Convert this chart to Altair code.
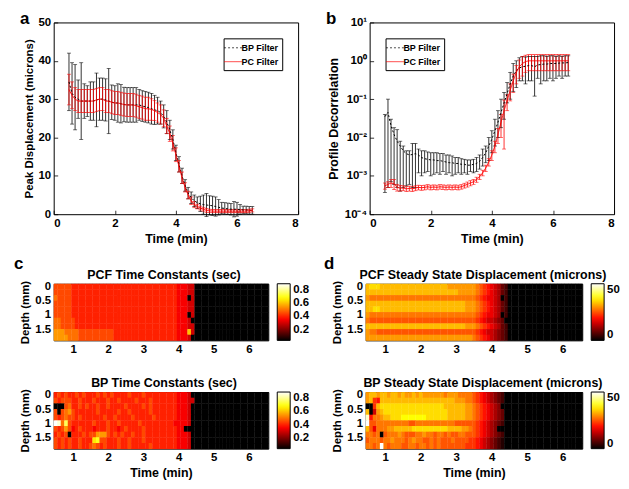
import altair as alt
import pandas as pd

FONT = "Liberation Sans"

TIME = [0.5, 0.6, 0.7, 0.8, 0.9, 1.0, 1.1, 1.2, 1.3, 1.4,
        1.5, 1.6, 1.7, 1.8, 1.9, 2.0, 2.1, 2.2, 2.3, 2.4,
        2.5, 2.6, 2.7, 2.8, 2.9, 3.0, 3.1, 3.2, 3.3, 3.4,
        3.5, 3.6, 3.7, 3.8, 3.9, 4.0, 4.1, 4.2, 4.3, 4.4,
        4.5, 4.6, 4.7, 4.8, 4.9, 5.0, 5.1, 5.2, 5.3, 5.4,
        5.5, 5.6, 5.7, 5.8, 5.9, 6.0, 6.1, 6.2, 6.3, 6.4, 6.5]
SERIES = ["BP Filter", "PC Filter"]

# ---- panel a : peak displacement (microns), mean and half-width of error bar
A_BP_MEAN = [34.5, 31.5, 30.5, 30.0, 29.5, 29.5, 29.5, 29.5, 29.5, 29.8,
             30.0, 30.0, 29.8, 29.5, 29.2, 29.0, 29.0, 28.8, 28.6, 28.5,
             28.5, 28.5, 28.5, 28.5, 28.2, 28.0, 27.8, 27.5, 27.2, 27.0,
             26.5, 25.5, 24.0, 22.0, 19.5, 16.0, 13.0, 10.0, 7.5, 5.5,
             4.3, 3.5, 3.0, 2.7, 2.5, 2.4, 2.3, 2.2, 2.0, 1.8,
             1.6, 1.5, 1.4, 1.3, 1.3, 1.3, 1.2, 1.1, 1.1, 1.0, 1.0]
A_BP_ERR = [7.5, 8.0, 8.5, 5.0, 10.0, 4.5, 4.0, 5.0, 5.0, 7.0,
            5.5, 5.5, 5.5, 8.5, 4.5, 4.5, 5.0, 5.0, 4.5, 4.5,
            4.5, 4.5, 4.5, 4.0, 4.0, 4.0, 4.0, 4.0, 3.8, 3.5,
            3.0, 3.0, 3.0, 2.5, 2.5, 2.0, 2.0, 2.0, 1.5, 1.5,
            1.5, 1.5, 1.5, 2.0, 2.5, 3.0, 2.5, 2.5, 2.5, 2.0,
            1.5, 1.5, 1.5, 1.5, 2.0, 1.8, 1.3, 1.0, 1.0, 1.0, 1.0]
A_PC_MEAN = [32.5, 31.0, 30.0, 29.5, 29.5, 29.5, 29.5, 29.5, 29.5, 29.8,
             30.0, 30.0, 29.5, 29.5, 29.2, 29.0, 29.0, 28.8, 28.6, 28.5,
             28.5, 28.5, 28.3, 28.0, 27.8, 27.5, 27.5, 27.3, 27.0, 26.5,
             26.0, 25.0, 23.0, 21.0, 18.5, 15.5, 12.5, 9.5, 7.0, 5.0,
             3.5, 2.5, 2.0, 1.6, 1.3, 1.0, 0.9, 0.8, 0.8, 0.8,
             0.8, 0.8, 0.8, 0.8, 0.8, 0.8, 0.8, 0.8, 0.8, 0.9, 1.0]
A_PC_ERR = [4.0, 3.5, 3.0, 3.0, 3.0, 3.0, 3.0, 3.0, 3.0, 3.0,
            3.0, 3.0, 3.0, 3.0, 3.0, 3.0, 3.0, 3.0, 3.0, 3.0,
            3.0, 3.0, 3.0, 3.0, 3.0, 3.0, 3.0, 2.8, 2.6, 2.5,
            2.5, 2.2, 2.0, 2.0, 2.0, 1.8, 1.5, 1.5, 1.2, 1.0,
            1.0, 0.8, 0.6, 0.5, 0.5, 0.5, 0.4, 0.4, 0.4, 0.4,
            0.4, 0.4, 0.4, 0.4, 0.4, 0.4, 0.4, 0.4, 0.4, 0.4, 0.4]

# ---- panel b : profile decorrelation (log scale)
B_BP_MEAN = [0.035, 0.045, 0.02, 0.012, 0.008, 0.006, 0.0045, 0.0038, 0.0035, 0.0036,
             0.0038, 0.0035, 0.003, 0.0028, 0.0027, 0.0026, 0.0026, 0.0025, 0.0025, 0.0024,
             0.0023, 0.0022, 0.0022, 0.0021, 0.0021, 0.002, 0.002, 0.0019, 0.0019, 0.002,
             0.0021, 0.0024, 0.003, 0.004, 0.006, 0.009, 0.015, 0.025, 0.045, 0.08,
             0.14, 0.25, 0.4, 0.55, 0.65, 0.7, 0.72, 0.75, 0.75, 0.7,
             0.78, 0.8, 0.82, 0.82, 0.85, 0.85, 0.85, 0.87, 0.88, 0.88, 0.9]
B_BP_LO = [3.7e-4, 5e-4, 7e-4, 6e-4, 5e-4, 4e-4, 5e-4, 5.5e-4, 6e-4, 5e-4,
           5e-4, 1.2e-3, 1e-3, 1.2e-3, 1.3e-3, 1e-3, 1.1e-3, 1.2e-3, 1.1e-3, 1.3e-3,
           1.1e-3, 1.2e-3, 1.0e-3, 1.1e-3, 1.2e-3, 1.1e-3, 1.2e-3, 1.1e-3, 1.3e-3, 1.2e-3,
           1.3e-3, 1.5e-3, 1.8e-3, 2.2e-3, 2.5e-3, 4e-3, 6e-3, 0.01, 0.018, 0.03,
           0.08, 0.1, 0.16, 0.2, 0.3, 0.3, 0.25, 0.3, 0.3, 0.12,
           0.35, 0.25, 0.3, 0.3, 0.35, 0.3, 0.35, 0.4, 0.35, 0.4, 0.4]
B_BP_HI = [0.04, 0.1, 0.03, 0.018, 0.016, 0.008, 0.006, 0.0045, 0.0045, 0.007,
           0.007, 0.005, 0.0045, 0.0045, 0.0042, 0.004, 0.004, 0.004, 0.0038, 0.0038,
           0.0035, 0.0035, 0.0033, 0.003, 0.003, 0.0028, 0.0027, 0.0026, 0.0026, 0.0027,
           0.003, 0.0035, 0.005, 0.006, 0.01, 0.015, 0.03, 0.05, 0.1, 0.15,
           0.27, 0.5, 0.85, 1.0, 1.2, 1.3, 1.25, 1.3, 1.3, 1.3,
           1.3, 1.35, 1.35, 1.3, 1.35, 1.35, 1.3, 1.35, 1.3, 1.35, 1.35]
B_PC_MEAN = [5.5e-4, 6e-4, 6.5e-4, 6.2e-4, 5e-4, 4.8e-4, 4.8e-4, 4.6e-4, 4.7e-4, 4.6e-4,
             4.8e-4, 5e-4, 4.9e-4, 5e-4, 5.2e-4, 5e-4, 5.1e-4, 5e-4, 5.2e-4, 5.1e-4,
             5e-4, 5.1e-4, 5e-4, 5.1e-4, 5e-4, 5.2e-4, 5.6e-4, 6e-4, 6.5e-4, 7e-4,
             8e-4, 9.5e-4, 1.2e-3, 1.6e-3, 2.3e-3, 3.5e-3, 6e-3, 0.012, 0.025, 0.05,
             0.09, 0.17, 0.3, 0.5, 0.7, 0.85, 0.95, 1.0, 1.0, 1.0,
             1.0, 1.0, 1.0, 1.0, 1.0, 1.0, 1.0, 1.0, 1.0, 1.0, 1.0]
B_PC_ERR = [1e-4, 1e-4, 1.5e-4, 1.8e-4, 1e-4, 0.8e-4, 0.7e-4, 0.7e-4, 0.7e-4, 0.7e-4,
            0.7e-4, 0.7e-4, 0.7e-4, 0.7e-4, 0.7e-4, 0.7e-4, 0.7e-4, 0.7e-4, 0.7e-4, 0.7e-4,
            0.7e-4, 0.7e-4, 0.7e-4, 0.7e-4, 0.7e-4, 0.7e-4, 0.8e-4, 0.9e-4, 1e-4, 1e-4,
            1.2e-4, 1.5e-4, 2e-4, 3e-4, 5e-4, 1e-3, 2e-3, 5e-3, 0.015, 0.045,
            0.04, 0.08, 0.15, 0.25, 0.35, 0.45, 0.45, 0.45, 0.45, 0.45,
            0.45, 0.45, 0.45, 0.45, 0.45, 0.45, 0.45, 0.45, 0.45, 0.45, 0.45]

# ---- heat maps: one string per depth row, one character per time column
# (level index in LEVELS; columns not written are 0 = black)
DEPTH = [0.0, 0.2, 0.4, 0.6, 0.8, 1.0, 1.2, 1.4, 1.6, 1.8]
LEVELS = "0123456789ABCDEFGHIJK"
TC_STEP = 0.05     # seconds per level
SS_STEP = 2.5      # microns per level

C_PCF_TC = [
    "9999988888" "8888888888" "8888888888" "8888877766",
    "9999988888" "8888888888" "8888888888" "8888877766",
    "A999988888" "8888888888" "8888888888" "8888877706",
    "9999988888" "8888888888" "8888888888" "8888877766",
    "9999988888" "8888888888" "8888888888" "8888877766",
    "9999988888" "8888888888" "8888888888" "8888877706",
    "AA99998888" "8888888888" "8888888888" "8888877760",
    "AA99998888" "8888888888" "8888888888" "8888877766",
    "BBBAAAA999" "9999999888" "8888888888" "88888777C6",
    "BBBBAAA999" "9999999888" "8888888888" "8888877760",
]
C_BP_TC = [
    "8989889898" "8898989888" "8988898888" "888887776",
    "9899988988" "8988898898" "8889888988" "8888877766",
    "0009A88989" "8898898888" "9888898988" "888887776",
    "909AB98888" "8898888898" "8988888988" "888887776",
    "989A998988" "8888988988" "8898888898" "888887776",
    "IHAF988888" "8988898898" "8888988888" "888877776",
    "989B978988" "8788898878" "9888898888" "888887700",
    "8989088898" "99BBB98989" "8898898888" "888887776",
    "9898988988" "8DE9988898" "8988898888" "888887776",
    "9898988988" "9A98988898" "8988888988" "888887776",
]
D_PCF_SS = [
    "DEEEDDDDDD" "DDDDDDDDDD" "DDDCCCCCCC" "CBA9876532",
    "DDDDDDDDDD" "DDDDDDDDDD" "DDDDDDCCCC" "CBA9876532",
    "CBBBBBBBBB" "BBBBBBBBBB" "BBBBBBBBBB" "BA98776502",
    "DDDDDDDDDD" "DDDDDDDDDD" "DDDDDDDDCC" "CBA9876532",
    "DDEEDDDDDD" "DDDDDDDDDD" "DDDDDDDDCC" "CBA9876532",
    "CBBBBBBBBB" "BBBBBBBBBB" "BBBBBBBBBB" "BA98776502",
    "BAAAAAAAAA" "AAAAAAAAAA" "AAAAAAAAAA" "A987665430",
    "DDDDDDDDDD" "DDDDDDDDDD" "DDDDDDDDCC" "CBA9876532",
    "CBBAAAAAAA" "AAAAAAAAAA" "AAAAAAAAAA" "A987665432",
    "CCCCCCCCCC" "CCCCCCCCCC" "CCCCCCCCCC" "BA98765432",
]
D_BP_SS = [
    "CDDCDDCDDC" "DCCDCDCCCC" "CCBCCCBBBB" "A98765432",
    "CD98DDDDDD" "DDDDDDDDDD" "DDDDDCCCBB" "A98765432",
    "009DEEEEEE" "EEEEEEEEEE" "EEDDDDDDCC" "BA9876540",
    "D06CDEEEEE" "EEEEEEEEEE" "EEEDDDDDCC" "BA9876543",
    "J8BBCDDEEE" "FFFFFFFEEE" "EEEDDDDDCC" "BA9876543",
    "KAABBBBBBB" "BBAABBBBBB" "BBBBBAAAAA" "A98765432",
    "DA7BBBCCDD" "DDDEEEEEEE" "EEEDDDDCCB" "A98765400",
    "BBAB0ABBBC" "BAAABBCBBA" "BBABAABBAA" "A98765432",
    "ABBBABBCBB" "BABCBBAABA" "BAAABAAAA9" "987654321",
    "BBABKBABBB" "AABBABBABA" "BAAAAAAA99" "987654321",
]


def series_df(bp_mean, bp_lo, bp_hi, pc_mean, pc_lo, pc_hi):
    bp = pd.DataFrame({"t": TIME, "mean": bp_mean, "lo": bp_lo, "hi": bp_hi, "series": SERIES[0]})
    pc = pd.DataFrame({"t": TIME, "mean": pc_mean, "lo": pc_lo, "hi": pc_hi, "series": SERIES[1]})
    return pd.concat([bp, pc], ignore_index=True)


df_a = series_df(A_BP_MEAN, [m - e for m, e in zip(A_BP_MEAN, A_BP_ERR)],
                 [m + e for m, e in zip(A_BP_MEAN, A_BP_ERR)],
                 A_PC_MEAN, [m - e for m, e in zip(A_PC_MEAN, A_PC_ERR)],
                 [m + e for m, e in zip(A_PC_MEAN, A_PC_ERR)])
df_b = series_df(B_BP_MEAN, B_BP_LO, B_BP_HI,
                 B_PC_MEAN, [m - e for m, e in zip(B_PC_MEAN, B_PC_ERR)],
                 [m + e for m, e in zip(B_PC_MEAN, B_PC_ERR)])


def text_layer(txt, dx, dy, size, align="left"):
    return alt.Chart(pd.DataFrame({"txt": [txt]})).mark_text(
        font=FONT, fontSize=size, fontWeight="bold", align=align, baseline="alphabetic", color="black"
    ).encode(text="txt:N", x=alt.value(dx), y=alt.value(dy))


# inward ticks (MATLAB style): the axis is moved 4 px into the plot and its
# 4 px ticks reach back to the frame; labels keep their usual distance.
TICKS_IN = dict(ticks=True, tickSize=4, tickColor="black", tickWidth=0.8, offset=-4, labelPadding=3)


def line_panel(df, yscale, yaxis, legend_orient, letter, ldx):
    leg = alt.Legend(title=None, orient=legend_orient, offset=16, strokeColor="black",
                     fillColor="white", padding=3, symbolType="M-1.5,0H1.5", symbolSize=144,
                     symbolStrokeWidth=1, labelFontSize=9, labelFontWeight="bold",
                     labelOffset=2, rowPadding=2, cornerRadius=0,
                     labelExpr="datum.label + '\u00a0\u00a0\u00a0'")
    xenc = alt.X("t:Q", scale=alt.Scale(domain=[0, 8], nice=False),
                 axis=alt.Axis(values=[0, 2, 4, 6, 8], title="Time (min)", titleFontSize=12.5,
                               **TICKS_IN))
    color = alt.Color("series:N", scale=alt.Scale(domain=SERIES, range=["#000000", "#ff0000"]), legend=leg)
    dash = alt.StrokeDash("series:N", scale=alt.Scale(domain=SERIES, range=[[2, 2], [1, 0]]), legend=leg)
    base = alt.Chart(df)
    bars = base.mark_rule(strokeWidth=0.8).encode(
        x=xenc, y=alt.Y("lo:Q", scale=yscale, axis=yaxis), y2="hi:Q", color=color)
    cap_lo = base.mark_tick(orient="horizontal", size=4, thickness=0.8).encode(
        x=xenc, y=alt.Y("lo:Q", scale=yscale, axis=yaxis), color=color)
    cap_hi = base.mark_tick(orient="horizontal", size=4, thickness=0.8).encode(
        x=xenc, y=alt.Y("hi:Q", scale=yscale, axis=yaxis), color=color)
    line = base.mark_line(strokeWidth=1).encode(
        x=xenc, y=alt.Y("mean:Q", scale=yscale, axis=yaxis), color=color, strokeDash=dash)
    return alt.layer(bars, cap_lo, cap_hi, line, text_layer(letter, ldx, 2, 17)).properties(
        width=246, height=193)


panel_a = line_panel(
    df_a,
    alt.Scale(domain=[0, 50], nice=False),
    alt.Axis(values=[0, 10, 20, 30, 40, 50], title="Peak Displacement (microns)", titleFontSize=11.5,
             **TICKS_IN),
    "top-right", "a", -34)

log_label = ("datum.value < 0.0005 ? '10⁻⁴' : datum.value < 0.005 ? '10⁻³' : "
             "datum.value < 0.05 ? '10⁻²' : datum.value < 0.5 ? '10⁻¹' : "
             "datum.value < 5 ? '10⁰' : '10¹'")
panel_b = line_panel(
    df_b,
    alt.Scale(type="log", domain=[1e-4, 10], nice=False),
    alt.Axis(values=[1e-4, 1e-3, 1e-2, 1e-1, 1, 10], labelExpr=log_label,
             title="Profile Decorrelation", titleFontSize=12.5, **TICKS_IN),
    "top-left", "b", -44)


def heat_df(rows, step):
    recs = []
    for d, row in zip(DEPTH, rows):
        row = row.ljust(len(TIME), "0")[:len(TIME)]
        for t, ch in zip(TIME, row):
            recs.append({"t": t, "d": d, "v": LEVELS.index(ch) * step})
    df = pd.DataFrame(recs)
    # cell edges (a hair of overlap hides anti-aliasing seams)
    df["t0"] = df["t"] - 0.05
    df["t1"] = df["t"] + 0.06
    df["d0"] = df["d"] - 0.1
    df["d1"] = df["d"] + 0.115
    return df


def heat_panel(rows, step, lo, hi, legend_values, title, width, xtitle, letter=None, ldx=0, tdx=3):
    df = heat_df(rows, step)
    span = hi - lo
    cscale = alt.Scale(domain=[lo, lo + 0.375 * span, lo + 0.75 * span, hi],
                       range=["#000000", "#ff0000", "#ffff00", "#ffffff"],
                       clamp=True, interpolate="rgb")
    leg = alt.Legend(type="gradient", title=None, orient="right", offset=9, gradientLength=57,
                     gradientThickness=13, values=legend_values, format="~r", labelFontSize=11.5,
                     labelFontWeight="bold", gradientStrokeColor="black", gradientStrokeWidth=1,
                     labelOffset=3, labelBaseline="middle", direction="vertical")
    rect = alt.Chart(df).mark_rect().encode(
        x=alt.X("t0:Q", scale=alt.Scale(domain=[0.45, 6.55], nice=False, zero=False),
                axis=alt.Axis(values=[1, 2, 3, 4, 5, 6], title=xtitle if xtitle else None,
                              titleFontSize=12.5)),
        x2="t1:Q",
        y=alt.Y("d0:Q", scale=alt.Scale(domain=[-0.1, 1.9], reverse=True, nice=False, zero=False),
                axis=alt.Axis(values=[0, 0.5, 1, 1.5], format="~r", title="Depth (mm)",
                              titleFontSize=11.5)),
        y2="d1:Q",
        color=alt.Color("v:Q", scale=cscale, legend=leg),
    )
    layers = [rect, text_layer(title, width / 2 + tdx, -5, 12.5, align="center")]
    if letter:
        layers.append(text_layer(letter, ldx, -15, 17))
    return alt.layer(*layers).properties(width=width, height=57)


c1 = heat_panel(C_PCF_TC, TC_STEP, 0.04, 0.89, [0.2, 0.4, 0.6, 0.8],
                "PCF Time Constants (sec)", 216, None, "c", -40)
c2 = heat_panel(C_BP_TC, TC_STEP, 0.04, 0.89, [0.2, 0.4, 0.6, 0.8],
                "BP Time Constants (sec)", 216, "Time (min)")
d1 = heat_panel(D_PCF_SS, SS_STEP, 0, 50, [0, 50],
                "PCF Steady State Displacement (microns)", 218, None, "d", -42, tdx=9)
d2 = heat_panel(D_BP_SS, SS_STEP, 0, 50, [0, 50],
                "BP Steady State Displacement (microns)", 218, "Time (min)", tdx=9)

RES = dict(color="independent", strokeDash="independent")

top = alt.hconcat(panel_a, panel_b, spacing=26).resolve_scale(**RES)
c_col = alt.vconcat(c1, c2, spacing=21).resolve_scale(**RES)
d_col = alt.vconcat(d1, d2, spacing=21).resolve_scale(**RES)
bottom = alt.hconcat(c_col, d_col, spacing=13).resolve_scale(**RES)

chart = alt.vconcat(top, bottom, spacing=8).resolve_scale(**RES).properties(
    padding={"left": 5, "top": 0, "right": 0, "bottom": 0}
).configure(font=FONT).configure_axis(
    labelFont=FONT, labelFontSize=11.5, labelFontWeight="bold", labelColor="black",
    titleFont=FONT, titleFontWeight="bold", titleColor="black",
    domain=False, ticks=False, tickSize=0, grid=False, labelPadding=3, titlePadding=4
).configure_view(stroke="black", strokeWidth=1).configure_legend(
    labelFont=FONT, labelColor="black"
).configure_title(font=FONT, color="black")

chart.save("out.html", embed_options={"renderer": "svg", "actions": False})
